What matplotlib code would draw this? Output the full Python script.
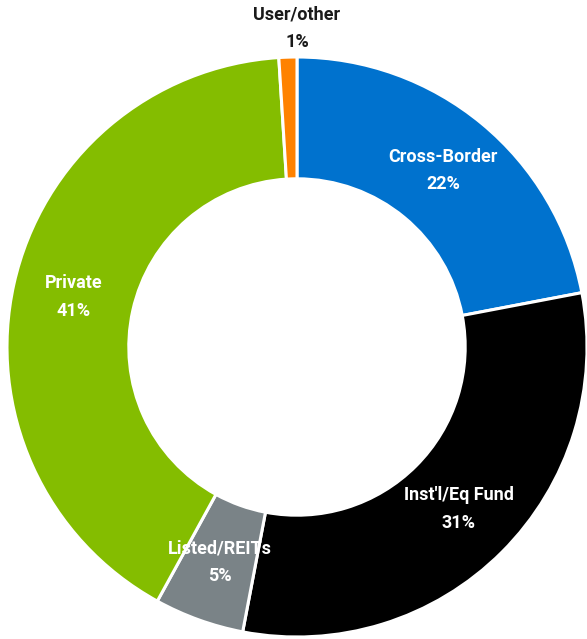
import matplotlib
matplotlib.use("Agg")
import matplotlib.pyplot as plt
import numpy as np

categories = ["Cross-Border", "Inst'l/Eq Fund", "Listed/REITs", "Private", "User/other"]
values = [22, 31, 5, 41, 1]
colors = ["#0072CE", "#000000", "#7A8387", "#84BD00", "#FF8200"]

plt.rcParams['font.family'] = ['Roboto', 'DejaVu Sans']

fig = plt.figure(figsize=(5.87, 6.39), dpi=100)
ax = fig.add_axes([7/587, 2/639, 580/587, 580/639])
wedges, _ = ax.pie(values, colors=colors, startangle=90, counterclock=False,
                   radius=1.0, wedgeprops=dict(width=0.42, edgecolor='white', linewidth=2.2))
ax.set_xlim(-1, 1)
ax.set_ylim(-1, 1)
ax.set_aspect('equal')
ax.axis('off')

total = sum(values)
cum = 0
for cat, v in zip(categories, values):
    mid = 90 - (cum + v / 2) / total * 360
    cum += v
    theta = np.deg2rad(mid)
    if v < 3:
        x, y = 0, 1.1
        col = '#1a1a1a'
    else:
        x, y = 0.79 * np.cos(theta), 0.79 * np.sin(theta)
        col = 'white'
    ax.text(x, y, f"{cat}\n{v}%", ha='center', va='center', color=col,
            fontsize=13, fontweight='bold', linespacing=1.7, clip_on=False)

fig.savefig("out.png", dpi=100)
